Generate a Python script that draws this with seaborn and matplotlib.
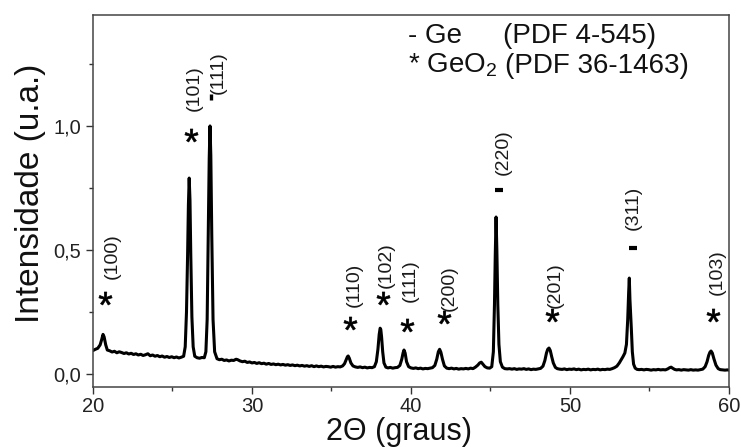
import matplotlib
matplotlib.use("Agg")
import matplotlib.pyplot as plt
import pandas as pd
import seaborn as sns

# Diffractogram: 2θ (degrees) and normalised intensity
two_theta = [
    20.0, 20.15, 20.3, 20.45, 20.55, 20.63, 20.7, 20.8, 20.9, 21.05, 21.2, 21.35,
    21.5, 21.65, 21.8, 21.95, 22.1, 22.25, 22.4, 22.55, 22.7, 22.85, 23.0, 23.15,
    23.3, 23.45, 23.6, 23.75, 23.9, 24.05, 24.2, 24.35, 24.5, 24.65, 24.8, 24.95,
    25.1, 25.25, 25.4, 25.55, 25.7, 25.8, 25.88, 25.95, 26.0, 26.05, 26.1, 26.15,
    26.22, 26.3, 26.4, 26.55, 26.7, 26.85, 27.0, 27.1, 27.18, 27.25, 27.31, 27.36,
    27.41, 27.47, 27.55, 27.65, 27.8, 27.95, 28.1, 28.25, 28.4, 28.55, 28.7, 28.85,
    29.0, 29.1, 29.25, 29.4, 29.55, 29.7, 29.85, 30.0, 30.15, 30.3, 30.45, 30.6,
    30.75, 30.9, 31.05, 31.2, 31.35, 31.5, 31.65, 31.8, 31.95, 32.1, 32.25, 32.4,
    32.55, 32.7, 32.85, 33.0, 33.15, 33.3, 33.45, 33.6, 33.75, 33.9, 34.05, 34.2,
    34.35, 34.5, 34.65, 34.8, 34.95, 35.1, 35.25, 35.4, 35.55, 35.7, 35.82, 35.92,
    36.0, 36.05, 36.12, 36.22, 36.35, 36.5, 36.65, 36.8, 36.95, 37.1, 37.25, 37.4,
    37.55, 37.7, 37.82, 37.92, 38.0, 38.06, 38.1, 38.15, 38.22, 38.3, 38.42, 38.55,
    38.7, 38.85, 39.0, 39.15, 39.3, 39.42, 39.5, 39.56, 39.63, 39.72, 39.85, 40.0,
    40.15, 40.3, 40.45, 40.6, 40.75, 40.9, 41.05, 41.2, 41.35, 41.5, 41.62, 41.72,
    41.8, 41.88, 41.98, 42.1, 42.25, 42.4, 42.55, 42.7, 42.85, 43.0, 43.15, 43.3,
    43.45, 43.6, 43.75, 43.9, 44.05, 44.2, 44.32, 44.42, 44.52, 44.65, 44.8, 44.95,
    45.08, 45.18, 45.25, 45.3, 45.35, 45.4, 45.46, 45.53, 45.62, 45.75, 45.9, 46.05,
    46.2, 46.35, 46.5, 46.65, 46.8, 46.95, 47.1, 47.25, 47.4, 47.55, 47.7, 47.85,
    48.0, 48.15, 48.3, 48.42, 48.52, 48.6, 48.68, 48.76, 48.85, 48.95, 49.08, 49.2,
    49.35, 49.5, 49.65, 49.8, 49.95, 50.1, 50.25, 50.4, 50.55, 50.7, 50.85, 51.0,
    51.15, 51.3, 51.45, 51.6, 51.75, 51.9, 52.05, 52.2, 52.35, 52.5, 52.65, 52.8,
    52.95, 53.1, 53.22, 53.33, 53.45, 53.55, 53.63, 53.69, 53.73, 53.77, 53.81, 53.86,
    53.92, 54.0, 54.1, 54.22, 54.35, 54.5, 54.65, 54.8, 54.95, 55.1, 55.25, 55.4,
    55.55, 55.7, 55.85, 56.0, 56.15, 56.27, 56.36, 56.45, 56.58, 56.7, 56.85, 57.0,
    57.15, 57.3, 57.45, 57.6, 57.75, 57.9, 58.05, 58.2, 58.35, 58.5, 58.62, 58.72,
    58.8, 58.87, 58.95, 59.05, 59.18, 59.32, 59.45, 59.6, 59.75, 59.9, 60.0,
]
intensity = [
    0.095, 0.100, 0.104, 0.118, 0.140, 0.160, 0.150, 0.118, 0.097, 0.094, 0.089, 0.092,
    0.086, 0.090, 0.087, 0.083, 0.086, 0.081, 0.084, 0.079, 0.082, 0.077, 0.080, 0.075,
    0.078, 0.082, 0.074, 0.077, 0.072, 0.075, 0.070, 0.073, 0.068, 0.071, 0.067, 0.070,
    0.066, 0.069, 0.065, 0.068, 0.072, 0.110, 0.250, 0.480, 0.680, 0.790, 0.700, 0.480,
    0.230, 0.110, 0.072, 0.066, 0.064, 0.067, 0.066, 0.090, 0.220, 0.560, 0.870, 1.000,
    0.880, 0.560, 0.220, 0.090, 0.062, 0.058, 0.060, 0.055, 0.057, 0.053, 0.056, 0.055,
    0.060, 0.058, 0.053, 0.050, 0.052, 0.047, 0.049, 0.045, 0.047, 0.043, 0.046, 0.042,
    0.044, 0.040, 0.043, 0.039, 0.041, 0.038, 0.040, 0.037, 0.039, 0.036, 0.038, 0.035,
    0.037, 0.034, 0.036, 0.033, 0.035, 0.032, 0.034, 0.031, 0.034, 0.030, 0.033, 0.030,
    0.032, 0.029, 0.031, 0.030, 0.028, 0.031, 0.028, 0.030, 0.029, 0.033, 0.042, 0.058,
    0.070, 0.073, 0.064, 0.045, 0.033, 0.029, 0.027, 0.029, 0.026, 0.028, 0.025, 0.027,
    0.026, 0.030, 0.050, 0.100, 0.160, 0.185, 0.180, 0.150, 0.090, 0.045, 0.028, 0.025,
    0.027, 0.024, 0.026, 0.027, 0.035, 0.060, 0.085, 0.097, 0.085, 0.050, 0.030, 0.025,
    0.023, 0.025, 0.022, 0.024, 0.021, 0.023, 0.022, 0.024, 0.026, 0.035, 0.060, 0.090,
    0.100, 0.088, 0.060, 0.033, 0.024, 0.022, 0.024, 0.021, 0.023, 0.020, 0.022, 0.021,
    0.023, 0.021, 0.024, 0.022, 0.028, 0.036, 0.045, 0.048, 0.040, 0.030, 0.025, 0.024,
    0.030, 0.090, 0.280, 0.480, 0.633, 0.500, 0.280, 0.120, 0.050, 0.028, 0.022, 0.021,
    0.022, 0.020, 0.022, 0.019, 0.021, 0.020, 0.022, 0.019, 0.021, 0.018, 0.020, 0.019,
    0.021, 0.023, 0.032, 0.055, 0.085, 0.100, 0.105, 0.095, 0.070, 0.045, 0.027, 0.022,
    0.020, 0.019, 0.021, 0.018, 0.020, 0.019, 0.021, 0.018, 0.020, 0.017, 0.019, 0.018,
    0.020, 0.017, 0.019, 0.018, 0.020, 0.017, 0.019, 0.018, 0.020, 0.019, 0.022, 0.026,
    0.032, 0.045, 0.058, 0.070, 0.085, 0.120, 0.220, 0.330, 0.387, 0.300, 0.250, 0.180,
    0.090, 0.040, 0.024, 0.019, 0.018, 0.019, 0.017, 0.019, 0.018, 0.016, 0.018, 0.017,
    0.019, 0.017, 0.018, 0.017, 0.021, 0.026, 0.028, 0.024, 0.019, 0.017, 0.018, 0.016,
    0.018, 0.017, 0.016, 0.018, 0.016, 0.017, 0.016, 0.018, 0.020, 0.030, 0.050, 0.075,
    0.088, 0.093, 0.085, 0.062, 0.036, 0.022, 0.018, 0.017, 0.016, 0.017, 0.016,
]

# Indexed reflections
reflections = ["(100)", "(101)", "(111)", "(110)", "(102)", "(111)",
               "(200)", "(220)", "(201)", "(311)", "(103)"]
phases = ["GeO2", "GeO2", "Ge", "GeO2", "GeO2", "GeO2",
          "GeO2", "Ge", "GeO2", "Ge", "GeO2"]

# Reference cards
legend_symbols = ["-", "*"]
legend_phases = ["Ge", "GeO$_2$"]
legend_cards = ["(PDF 4-545)", "(PDF 36-1463)"]

x_ticks = [20, 30, 40, 50, 60]
y_ticks = [0.0, 0.5, 1.0]

# Placement of the phase symbol and of the rotated hkl text, in data units
symbol_xy = [(20.75, 0.306), (26.16, 0.964), (27.42, 1.117), (36.16, 0.206),
             (38.24, 0.306), (39.75, 0.198), (42.08, 0.230), (45.53, 0.742),
             (48.87, 0.238), (53.96, 0.508), (58.99, 0.238)]
hkl_xy = [(21.22, 0.476), (26.38, 1.153), (27.88, 1.214), (36.45, 0.359),
          (38.45, 0.440), (39.96, 0.375), (42.40, 0.347), (45.80, 0.895),
          (49.08, 0.359), (53.98, 0.669), (59.27, 0.411)]

sns.set_theme(style="ticks")
plt.rcParams["font.family"] = ["Liberation Sans", "DejaVu Sans"]
plt.rcParams["mathtext.fontset"] = "custom"
plt.rcParams["mathtext.rm"] = "Liberation Sans"
plt.rcParams["mathtext.it"] = "Liberation Sans:italic"

fig = plt.figure(figsize=(7.41, 4.47), dpi=100)
ax = fig.add_axes([0.1255, 0.1342, 0.8583, 0.8322])

df = pd.DataFrame({"two_theta": two_theta, "intensity": intensity})
sns.lineplot(data=df, x="two_theta", y="intensity", ax=ax, color="black",
             linewidth=2.2, estimator=None, sort=False)
for line in ax.get_lines():
    line.set_solid_joinstyle("round")

ax.set_xlim(20, 60)
ax.set_ylim(-0.052, 1.447)
ax.set_xticks(x_ticks)
ax.set_xticklabels([str(v) for v in x_ticks])
ax.set_yticks(y_ticks)
ax.set_yticklabels([f"{v:.1f}".replace(".", ",") for v in y_ticks])
ax.set_xticks([25, 35, 45, 55], minor=True)
ax.set_yticks([0.25, 0.75, 1.25], minor=True)
ax.tick_params(which="major", direction="out", length=5, width=1.0,
               labelsize=14.5, pad=3.5, color="#333333", labelcolor="#222222")
ax.tick_params(axis="x", which="major", pad=2.5)
ax.tick_params(which="minor", direction="out", length=3, width=1.0,
               color="#333333")
for side in ax.spines.values():
    side.set_linewidth(1.1)
    side.set_color("#444444")

ax.set_xlabel("2Θ (graus)", fontsize=22, color="#111111")
ax.xaxis.label.set_va("baseline")
ax.xaxis.set_label_coords(0.481, -0.1425)
ax.set_ylabel("Intensidade (u.a.)", fontsize=24, color="#111111")
ax.yaxis.label.set_va("center")
ax.yaxis.set_label_coords(-0.099, 0.5215)

# Phase symbols and hkl indices above the peaks
for hkl, phase, (sx, sy), (tx, ty) in zip(reflections, phases, symbol_xy, hkl_xy):
    if phase == "GeO2":
        ax.plot(sx, sy, marker="$*$", markersize=9.5, color="black",
                markeredgewidth=0.5)
    elif hkl == "(111)":
        ax.plot(sx, sy, marker="|", markersize=5, markeredgewidth=2.4,
                color="black")
    else:
        ax.plot(sx, sy, marker="_", markersize=6, markeredgewidth=3,
                color="black")
    ax.text(tx, ty, hkl, rotation=90, ha="center", va="center",
            fontsize=14, color="#1a1a1a")

# Reference cards, top right
for i, (sym, name, card) in enumerate(zip(legend_symbols, legend_phases, legend_cards)):
    yb = 1.335 - i * 0.121
    ax.text(39.81, yb, f"{sym} {name}", ha="left", va="baseline",
            fontsize=20, color="#111111")
    ax.text(45.79 + i * 0.12, yb, card, ha="left", va="baseline",
            fontsize=20, color="#111111")

fig.savefig("out.png", dpi=100)
